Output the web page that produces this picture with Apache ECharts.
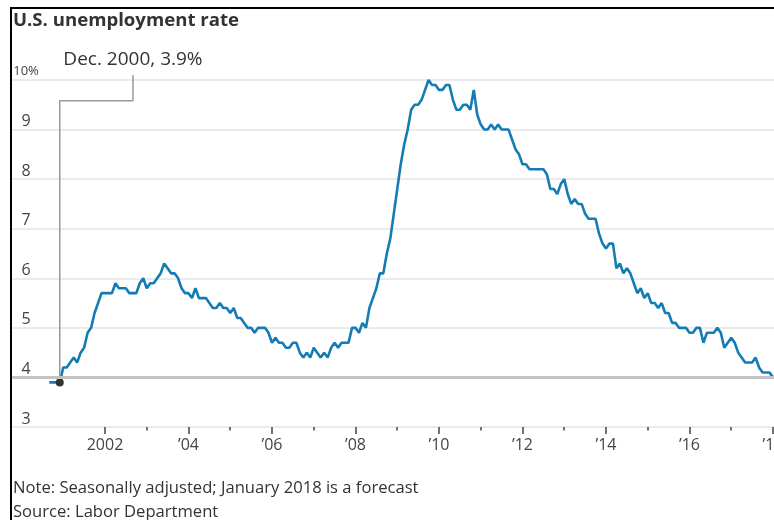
<!DOCTYPE html>
<html>
<head>
<meta charset="utf-8">
<script src="https://cdn.jsdelivr.net/npm/echarts@6/dist/echarts.min.js"></script>
<style>
  html, body { margin: 0; padding: 0; background: #fff; }
  #chartBox { width: 774px; height: 520px; }
</style>
</head>
<body>
<div id="chartBox"></div>
<script>
// monthly rate, first value = Sep 2000, last = Jan 2018 (forecast)
var startYear = 2000;
var startMonth = 9;
var rates = [
    3.9, 3.9, 3.9, 3.9,
    4.2, 4.2, 4.3, 4.4, 4.3, 4.5, 4.6, 4.9, 5.0, 5.3, 5.5, 5.7,
    5.7, 5.7, 5.7, 5.9, 5.8, 5.8, 5.8, 5.7, 5.7, 5.7, 5.9, 6.0,
    5.8, 5.9, 5.9, 6.0, 6.1, 6.3, 6.2, 6.1, 6.1, 6.0, 5.8, 5.7,
    5.7, 5.6, 5.8, 5.6, 5.6, 5.6, 5.5, 5.4, 5.4, 5.5, 5.4, 5.4,
    5.3, 5.4, 5.2, 5.2, 5.1, 5.0, 5.0, 4.9, 5.0, 5.0, 5.0, 4.9,
    4.7, 4.8, 4.7, 4.7, 4.6, 4.6, 4.7, 4.7, 4.5, 4.4, 4.5, 4.4,
    4.6, 4.5, 4.4, 4.5, 4.4, 4.6, 4.7, 4.6, 4.7, 4.7, 4.7, 5.0,
    5.0, 4.9, 5.1, 5.0, 5.4, 5.6, 5.8, 6.1, 6.1, 6.5, 6.8, 7.3,
    7.8, 8.3, 8.7, 9.0, 9.4, 9.5, 9.5, 9.6, 9.8, 10.0, 9.9, 9.9,
    9.8, 9.8, 9.9, 9.9, 9.6, 9.4, 9.4, 9.5, 9.5, 9.4, 9.8, 9.3,
    9.1, 9.0, 9.0, 9.1, 9.0, 9.1, 9.0, 9.0, 9.0, 8.8, 8.6, 8.5,
    8.3, 8.3, 8.2, 8.2, 8.2, 8.2, 8.2, 8.1, 7.8, 7.8, 7.7, 7.9,
    8.0, 7.7, 7.5, 7.6, 7.5, 7.5, 7.3, 7.2, 7.2, 7.2, 6.9, 6.7,
    6.6, 6.7, 6.7, 6.2, 6.3, 6.1, 6.2, 6.1, 5.9, 5.7, 5.8, 5.6,
    5.7, 5.5, 5.5, 5.4, 5.5, 5.3, 5.3, 5.1, 5.1, 5.0, 5.0, 5.0,
    4.9, 4.9, 5.0, 5.0, 4.7, 4.9, 4.9, 4.9, 5.0, 4.9, 4.6, 4.7,
    4.8, 4.7, 4.5, 4.4, 4.3, 4.3, 4.3, 4.4, 4.2, 4.1, 4.1, 4.1,
    4.0
];
var majorYears = [2002, 2004, 2006, 2008, 2010, 2012, 2014, 2016, 2018];
var majorLabels = ['2002', '\u201904', '\u201906', '\u201908', '\u201910', '\u201912', '\u201914', '\u201916', '\u201918'];
var minorYears = [2003, 2005, 2007, 2009, 2011, 2013, 2015, 2017];
var noteYear = 2000 + 11 / 12;   // Dec. 2000
var noteValue = 3.9;

/**
 * 失业率折线图
 */
function unemploymentChart() {
    var myChart = echarts.init(document.getElementById('chartBox'));
    var points = [];
    for (var i = 0; i < rates.length; i++) {
        points.push([startYear + (startMonth - 1 + i) / 12, rates[i]]);
    }
    var font = '"Open Sans", "Noto Sans", sans-serif';
    var option = {
        animation: false,
        textStyle: {fontFamily: font},
        title: [
            {
                text: 'U.S. unemployment rate',
                left: 13, top: 8, padding: 0,
                textStyle: {fontSize: 18.6, fontWeight: 'bold', color: '#333', lineHeight: 26, fontFamily: font}
            },
            {
                text: 'Note: Seasonally adjusted; January 2018 is a forecast\nSource: Labor Department',
                left: 13, top: 476, padding: 0,
                textStyle: {fontSize: 16.6, fontWeight: 'normal', color: '#333', lineHeight: 24, fontFamily: font}
            }
        ],
        graphic: [{
            type: 'rect', silent: true,
            shape: {x: 11, y: 8, width: 900, height: 700},
            style: {fill: 'none', stroke: '#000', lineWidth: 2}
        }],
        grid: {left: 12, right: 0, top: 80, bottom: 93, containLabel: false, outerBoundsMode: 'none'},
        xAxis: [
            {
                type: 'value',
                min: 1999.7725, max: 2018.024,
                axisLine: {show: false},
                splitLine: {show: false},
                axisTick: {show: true, customValues: majorYears, length: 7, lineStyle: {color: '#444', width: 1.5}},
                axisLabel: {
                    customValues: majorYears, margin: 10, fontSize: 16, color: '#444',
                    formatter: function (v) { return majorLabels[majorYears.indexOf(Math.round(v))]; }
                }
            },
            {
                type: 'value', position: 'bottom',
                min: 1999.7725, max: 2018.024,
                axisLine: {show: false},
                splitLine: {show: false},
                axisTick: {show: true, customValues: minorYears, length: 3.5, lineStyle: {color: '#444', width: 1.5}},
                axisLabel: {show: false}
            }
        ],
        yAxis: {
            type: 'value', min: 3, max: 10, interval: 1,
            axisLine: {show: false},
            axisTick: {show: false},
            splitLine: {lineStyle: {color: '#e4e4e4', width: 1.5}},
            axisLabel: {
                inside: true, align: 'center', verticalAlign: 'bottom', margin: 14,
                fontSize: 16, color: '#444',
                formatter: function (v) { return v === 10 ? '{s|10%}' : String(v); },
                rich: {s: {fontSize: 13, color: '#444', padding: [0, 0, 2, 0]}}
            }
        },
        series: [
            {
                type: 'line', data: [], z: 1, silent: true,
                markLine: {
                    silent: true, symbol: 'none', label: {show: false},
                    lineStyle: {color: '#c4c4c4', width: 3, type: 'solid'},
                    data: [{yAxis: 4}]
                }
            },
            {
                name: '失业率',
                type: 'line', z: 3,
                data: points,
                showSymbol: false,
                lineStyle: {color: '#137cb5', width: 2.6},
                itemStyle: {color: '#137cb5'}
            },
            {
                type: 'line', z: 4, clip: false, silent: true,
                showSymbol: true, showAllSymbol: true,
                symbol: 'circle', symbolSize: 0,
                lineStyle: {color: '#999', width: 1.5},
                itemStyle: {color: '#999'},
                data: [
                    {value: [noteYear, noteValue], symbolSize: 8, itemStyle: {color: '#333'}},
                    {value: [noteYear, 9.58]},
                    {value: [2002.67, 9.58]},
                    {
                        value: [2002.67, 10.1],
                        label: {
                            show: true, position: 'top', distance: 6,
                            formatter: 'Dec. 2000, 3.9%', fontSize: 19, color: '#333', fontFamily: font
                        }
                    }
                ]
            }
        ]
    };
    myChart.setOption(option);
}
unemploymentChart();
</script>
</body>
</html>
